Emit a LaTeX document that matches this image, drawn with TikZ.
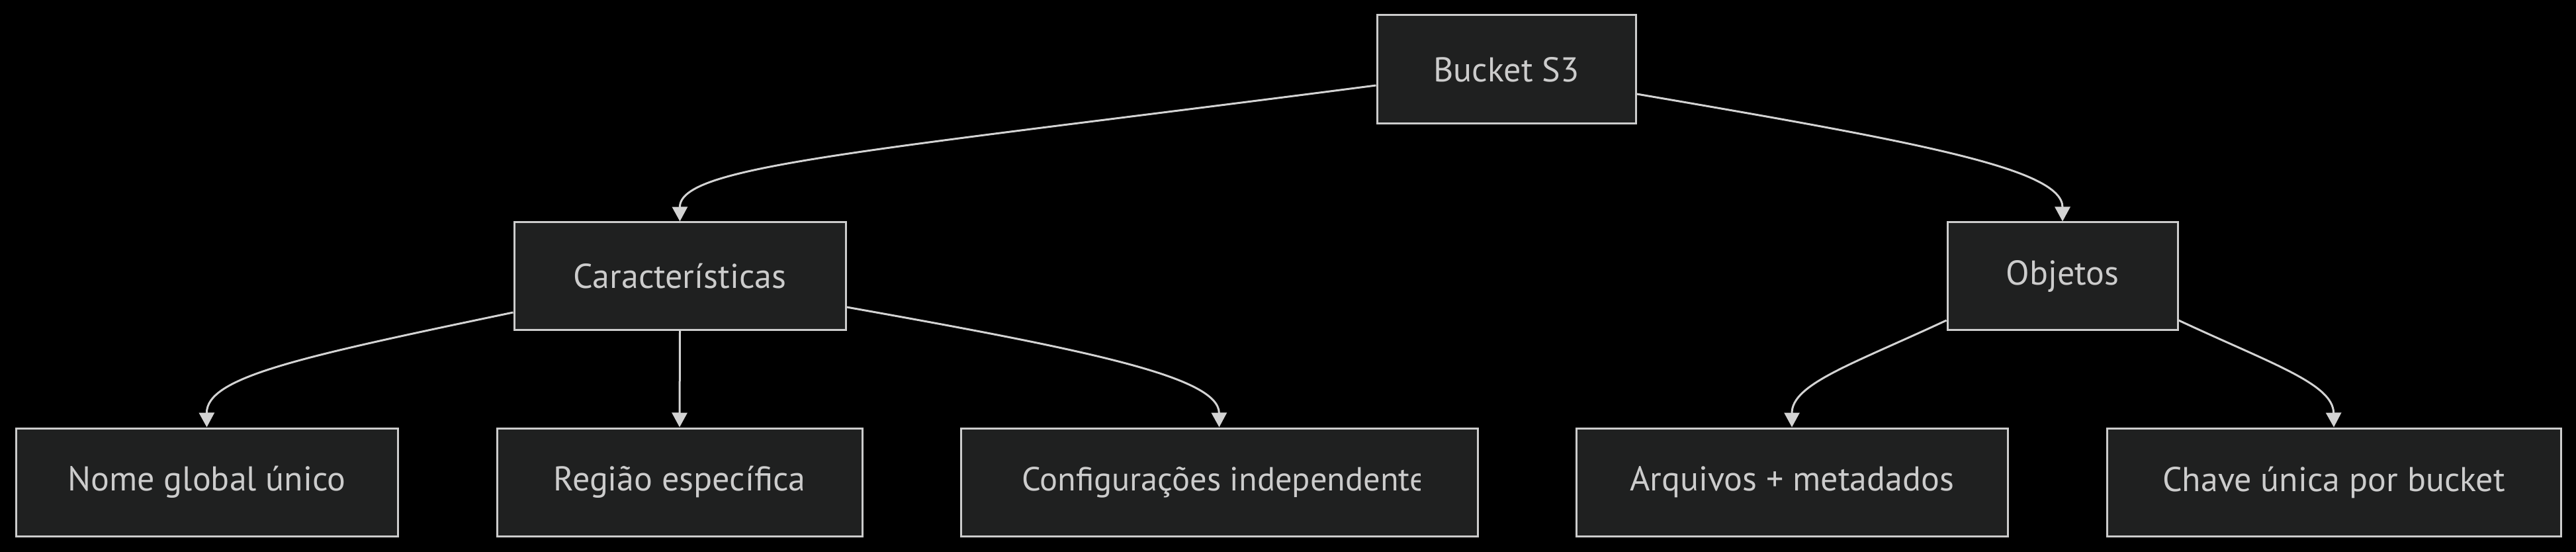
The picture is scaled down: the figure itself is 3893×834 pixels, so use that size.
\documentclass[tikz,border=0pt]{standalone}
\usepackage{fontspec}
\setmainfont{PT Sans}
\usetikzlibrary{arrows.meta}
\definecolor{bg}{HTML}{000000}
\definecolor{boxfill}{HTML}{1F2020}
\definecolor{boxline}{HTML}{CCCCCC}
\definecolor{txt}{HTML}{CCCCCC}
\definecolor{edge}{HTML}{D3D3D3}
\begin{document}
\begin{tikzpicture}[x=1pt,y=-1pt,
  box/.style={draw=boxline, fill=boxfill, line width=3pt, inner sep=0pt, text=txt,
    font=\fontsize{52}{60}\selectfont, rectangle},
  conn/.style={draw=edge, line width=3pt, -{Triangle[length=22pt,width=23pt]}}]
\fill[bg] (0,0) rectangle (3893,834);
\useasboundingbox (0,0) rectangle (3893,834);
% row 1
\node[box, minimum width=391pt, minimum height=164pt] (bucket) at (2276.5,105) {Bucket S3};
% row 2
\node[box, minimum width=501pt, minimum height=162pt] (caract) at (1027.5,417) {Características};
\node[box, minimum width=348pt, minimum height=162pt] (objetos) at (3117,417) {Objetos};
% row 3
\node[box, minimum width=577pt, minimum height=163pt] (nome) at (312.5,728.5) {Nome global único};
\node[box, minimum width=552pt, minimum height=163pt] (regiao) at (1027,728.5) {Região específica};
\node[box, minimum width=781pt, minimum height=163pt] (config) at (1842.5,728.5) {};
\node[box, minimum width=652pt, minimum height=163pt] (arquivos) at (2708,728.5) {Arquivos + metadados};
\node[box, minimum width=686pt, minimum height=163pt] (chave) at (3527,728.5) {Chave única por bucket};
\begin{scope}
  \clip (1452,647) rectangle (2146,810);
  \node[text=txt, font=\fontsize{50.5}{60}\selectfont, anchor=west, inner sep=0pt] (configtxt) at (1544,728.5) {Configurações independentes};
\end{scope}
% connectors
\draw[conn] ([yshift=-24pt]bucket.west) .. controls (1300,230) and (1027,250) .. (caract.north);
\draw[conn] ([yshift=-37pt]bucket.east) .. controls (2900,215) and (3117,255) .. (objetos.north);
\draw[conn] ([yshift=-55pt]caract.west) .. controls (450,540) and (312,570) .. (nome.north);
\draw[conn] (caract.south) -- (regiao.north);
\draw[conn] ([yshift=-47pt]caract.east) .. controls (1650,530) and (1842,570) .. (config.north);
\draw[conn] ([yshift=-67pt]objetos.west) .. controls (2800,550) and (2708,580) .. (arquivos.north);
\draw[conn] ([yshift=-67pt]objetos.east) .. controls (3434,550) and (3526,580) .. (chave.north);
\end{tikzpicture}
\end{document}
